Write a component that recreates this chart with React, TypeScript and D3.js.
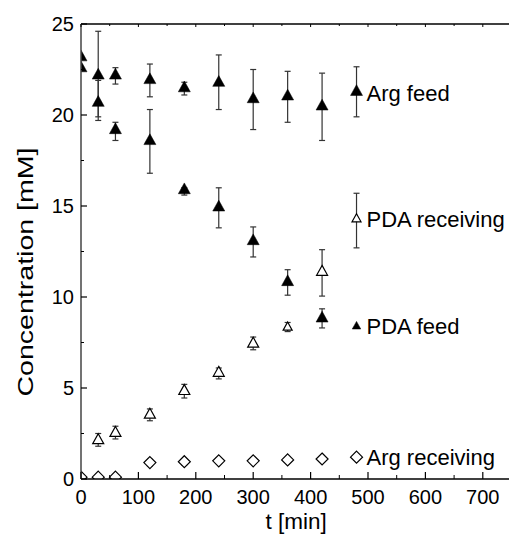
import React from "react";
import * as d3 from "d3";

const times = [0, 30, 60, 120, 180, 240, 300, 360, 420, 480];

const argFeed = [23.2, 22.2, 22.2, 21.95, 21.5, 21.8, 20.9, 21.05, 20.5, 21.3];
const argFeedLo = [NaN, 19.9, 21.7, 21.0, 21.1, 20.3, 19.2, 19.6, 18.6, 19.9];
const argFeedHi = [NaN, 24.6, 22.6, 22.8, 21.8, 23.3, 22.5, 22.4, 22.3, 22.65];

const pdaFeed = [22.6, 20.7, 19.2, 18.6, 15.9, 14.95, 13.1, 10.85, 8.85, 8.4];
const pdaFeedLo = [NaN, 19.7, 18.6, 16.8, 15.6, 13.8, 12.2, 10.1, 8.3, NaN];
const pdaFeedHi = [NaN, 21.9, 19.6, 20.3, 16.0, 16.0, 13.85, 11.5, 9.35, NaN];

const pdaRecv = [NaN, 2.15, 2.55, 3.55, 4.85, 5.85, 7.45, 8.35, 11.4, 14.3];
const pdaRecvLo = [NaN, 1.8, 2.2, 3.2, 4.45, 5.5, 7.1, 8.1, 10.05, 12.7];
const pdaRecvHi = [NaN, 2.5, 2.9, 3.85, 5.2, 6.1, 7.8, 8.6, 12.6, 15.7];

const argRecv = [0.1, 0.1, 0.1, 0.9, 0.95, 1.0, 1.0, 1.05, 1.1, 1.2];
const argRecvLo = [NaN, NaN, NaN, 0.72, 0.78, 0.85, 0.88, 0.92, 0.98, NaN];
const argRecvHi = [NaN, NaN, NaN, 1.08, 1.1, 1.15, 1.12, 1.18, 1.2, NaN];

const seriesLabels = ["Arg feed", "PDA receiving", "PDA feed", "Arg receiving"];
const xTicks = [0, 100, 200, 300, 400, 500, 600, 700];
const yTicks = [0, 5, 10, 15, 20, 25];

const W = 509, H = 535;
const x = d3.scaleLinear().domain([0, 750]).range([81, 511.5]);
const y = d3.scaleLinear().domain([0, 25]).range([479, 24]);

type Kind = "filled" | "open" | "diamond";

function markerPath(kind: Kind, s: number) {
  if (kind === "diamond") {
    const w = s / 2, h = s / 2;
    return `M0,${-h}L${w},0L0,${h}L${-w},0Z`;
  }
  const w = s / 2;
  const h = s * 0.9;
  return `M0,${-h * 0.62}L${w},${h * 0.38}L${-w},${h * 0.38}Z`;
}

const FONT = "'Liberation Sans', Arial, Helvetica, sans-serif";

function Series({ vals, lo, hi, kind, sizes }: { vals: number[]; lo: number[]; hi: number[]; kind: Kind; sizes: number[] }) {
  return (
    <g>
      {times.map((t, i) => {
        const v = vals[i];
        if (isNaN(v)) return null;
        const cx = x(t), cy = y(v);
        const parts: React.ReactNode[] = [];
        if (!isNaN(hi[i])) {
          parts.push(<line key="h" x1={cx} x2={cx} y1={y(hi[i])} y2={cy} />);
          parts.push(<line key="hc" x1={cx - 3} x2={cx + 3} y1={y(hi[i])} y2={y(hi[i])} />);
        }
        if (!isNaN(lo[i])) {
          parts.push(<line key="l" x1={cx} x2={cx} y1={y(lo[i])} y2={cy} />);
          parts.push(<line key="lc" x1={cx - 3} x2={cx + 3} y1={y(lo[i])} y2={y(lo[i])} />);
        }
        return (
          <g key={i}>
            <g stroke="#333" strokeWidth={1.2}>{parts}</g>
            <path
              d={markerPath(kind, sizes[i])}
              transform={`translate(${cx},${cy})`}
              fill={kind === "filled" ? "#000" : "#fff"}
              stroke="#000"
              strokeWidth={kind === "filled" ? 0.5 : 1.2}
            />
          </g>
        );
      })}
    </g>
  );
}

export default function App() {
  const x0 = x(0), y0 = y(0), yTop = y(25);
  const minorX = d3.range(50, 751, 100);
  const minorY = d3.range(2.5, 25, 5);
  const labelX = x(480) + 10;
  const big = times.map(() => 12);
  const open = times.map((t) => (t === 360 || t === 480 ? 9 : 11));
  const pfs = times.map((t) => (t === 480 ? 8.5 : 12));
  const dia = times.map(() => 12);
  return (
    <svg width={W} height={H} style={{ position: "absolute", left: 0, top: 0, background: "#fff" }} fontFamily={FONT}>
      <defs>
        <clipPath id="plot">
          <rect x={x0} y={yTop} width={W - x0} height={y0 - yTop} />
        </clipPath>
      </defs>
      <g clipPath="url(#plot)">
        <Series vals={argFeed} lo={argFeedLo} hi={argFeedHi} kind="filled" sizes={big} />
        <Series vals={pdaFeed} lo={pdaFeedLo} hi={pdaFeedHi} kind="filled" sizes={pfs} />
        <Series vals={pdaRecv} lo={pdaRecvLo} hi={pdaRecvHi} kind="open" sizes={open} />
        <Series vals={argRecv} lo={argRecvLo} hi={argRecvHi} kind="diamond" sizes={dia} />
      </g>
      {/* frame */}
      <line x1={x0} x2={W} y1={yTop} y2={yTop} stroke="#000" strokeWidth={1.5} />
      <line x1={x0} x2={W} y1={y0} y2={y0} stroke="#000" strokeWidth={1.5} />
      <line x1={x0} x2={x0} y1={yTop} y2={y0} stroke="#444" strokeWidth={1.5} />
      {/* x ticks */}
      {xTicks.map((t) => (
        <g key={t}>
          <line x1={x(t)} x2={x(t)} y1={y0} y2={y0 - 7} stroke="#000" strokeWidth={1.2} />
          <line x1={x(t)} x2={x(t)} y1={yTop} y2={yTop + 3} stroke="#000" strokeWidth={1} />
          <text x={x(t)} y={y0 + 25} fontSize={20} textAnchor="middle" fill="#000">{t}</text>
        </g>
      ))}
      {minorX.map((t) => (
        <g key={"m" + t}>
          <line x1={x(t)} x2={x(t)} y1={y0} y2={y0 - 4} stroke="#000" strokeWidth={1} />
          <line x1={x(t)} x2={x(t)} y1={yTop} y2={yTop + 2} stroke="#000" strokeWidth={1} />
        </g>
      ))}
      {/* y ticks */}
      {yTicks.map((v) => (
        <g key={v}>
          <line x1={x0} x2={x0 + 6} y1={y(v)} y2={y(v)} stroke="#000" strokeWidth={1.2} />
          <text x={x0 - 7} y={y(v) + 7} fontSize={20} textAnchor="end" fill="#000">{v}</text>
        </g>
      ))}
      {minorY.map((v) => (
        <line key={"my" + v} x1={x0} x2={x0 + 3} y1={y(v)} y2={y(v)} stroke="#000" strokeWidth={1} />
      ))}
      {/* series labels */}
      <text x={labelX} y={y(argFeed[9]) + 10} fontSize={22} fill="#000">{seriesLabels[0]}</text>
      <text x={labelX} y={y(pdaRecv[9]) + 8} fontSize={22} fill="#000">{seriesLabels[1]}</text>
      <text x={labelX} y={y(pdaFeed[9]) + 8} fontSize={22} fill="#000">{seriesLabels[2]}</text>
      <text x={labelX} y={y(argRecv[9]) + 8} fontSize={22} fill="#000">{seriesLabels[3]}</text>
      {/* axis titles */}
      <text x={x(375)} y={529} fontSize={22.5} textAnchor="middle" fill="#000">t [min]</text>
      <text
        transform={`translate(33,272) rotate(-90)`}
        fontSize={22}
        textAnchor="middle"
        fill="#000"
        textLength={249}
        lengthAdjust="spacingAndGlyphs"
      >
        Concentration [mM]
      </text>
    </svg>
  );
}
